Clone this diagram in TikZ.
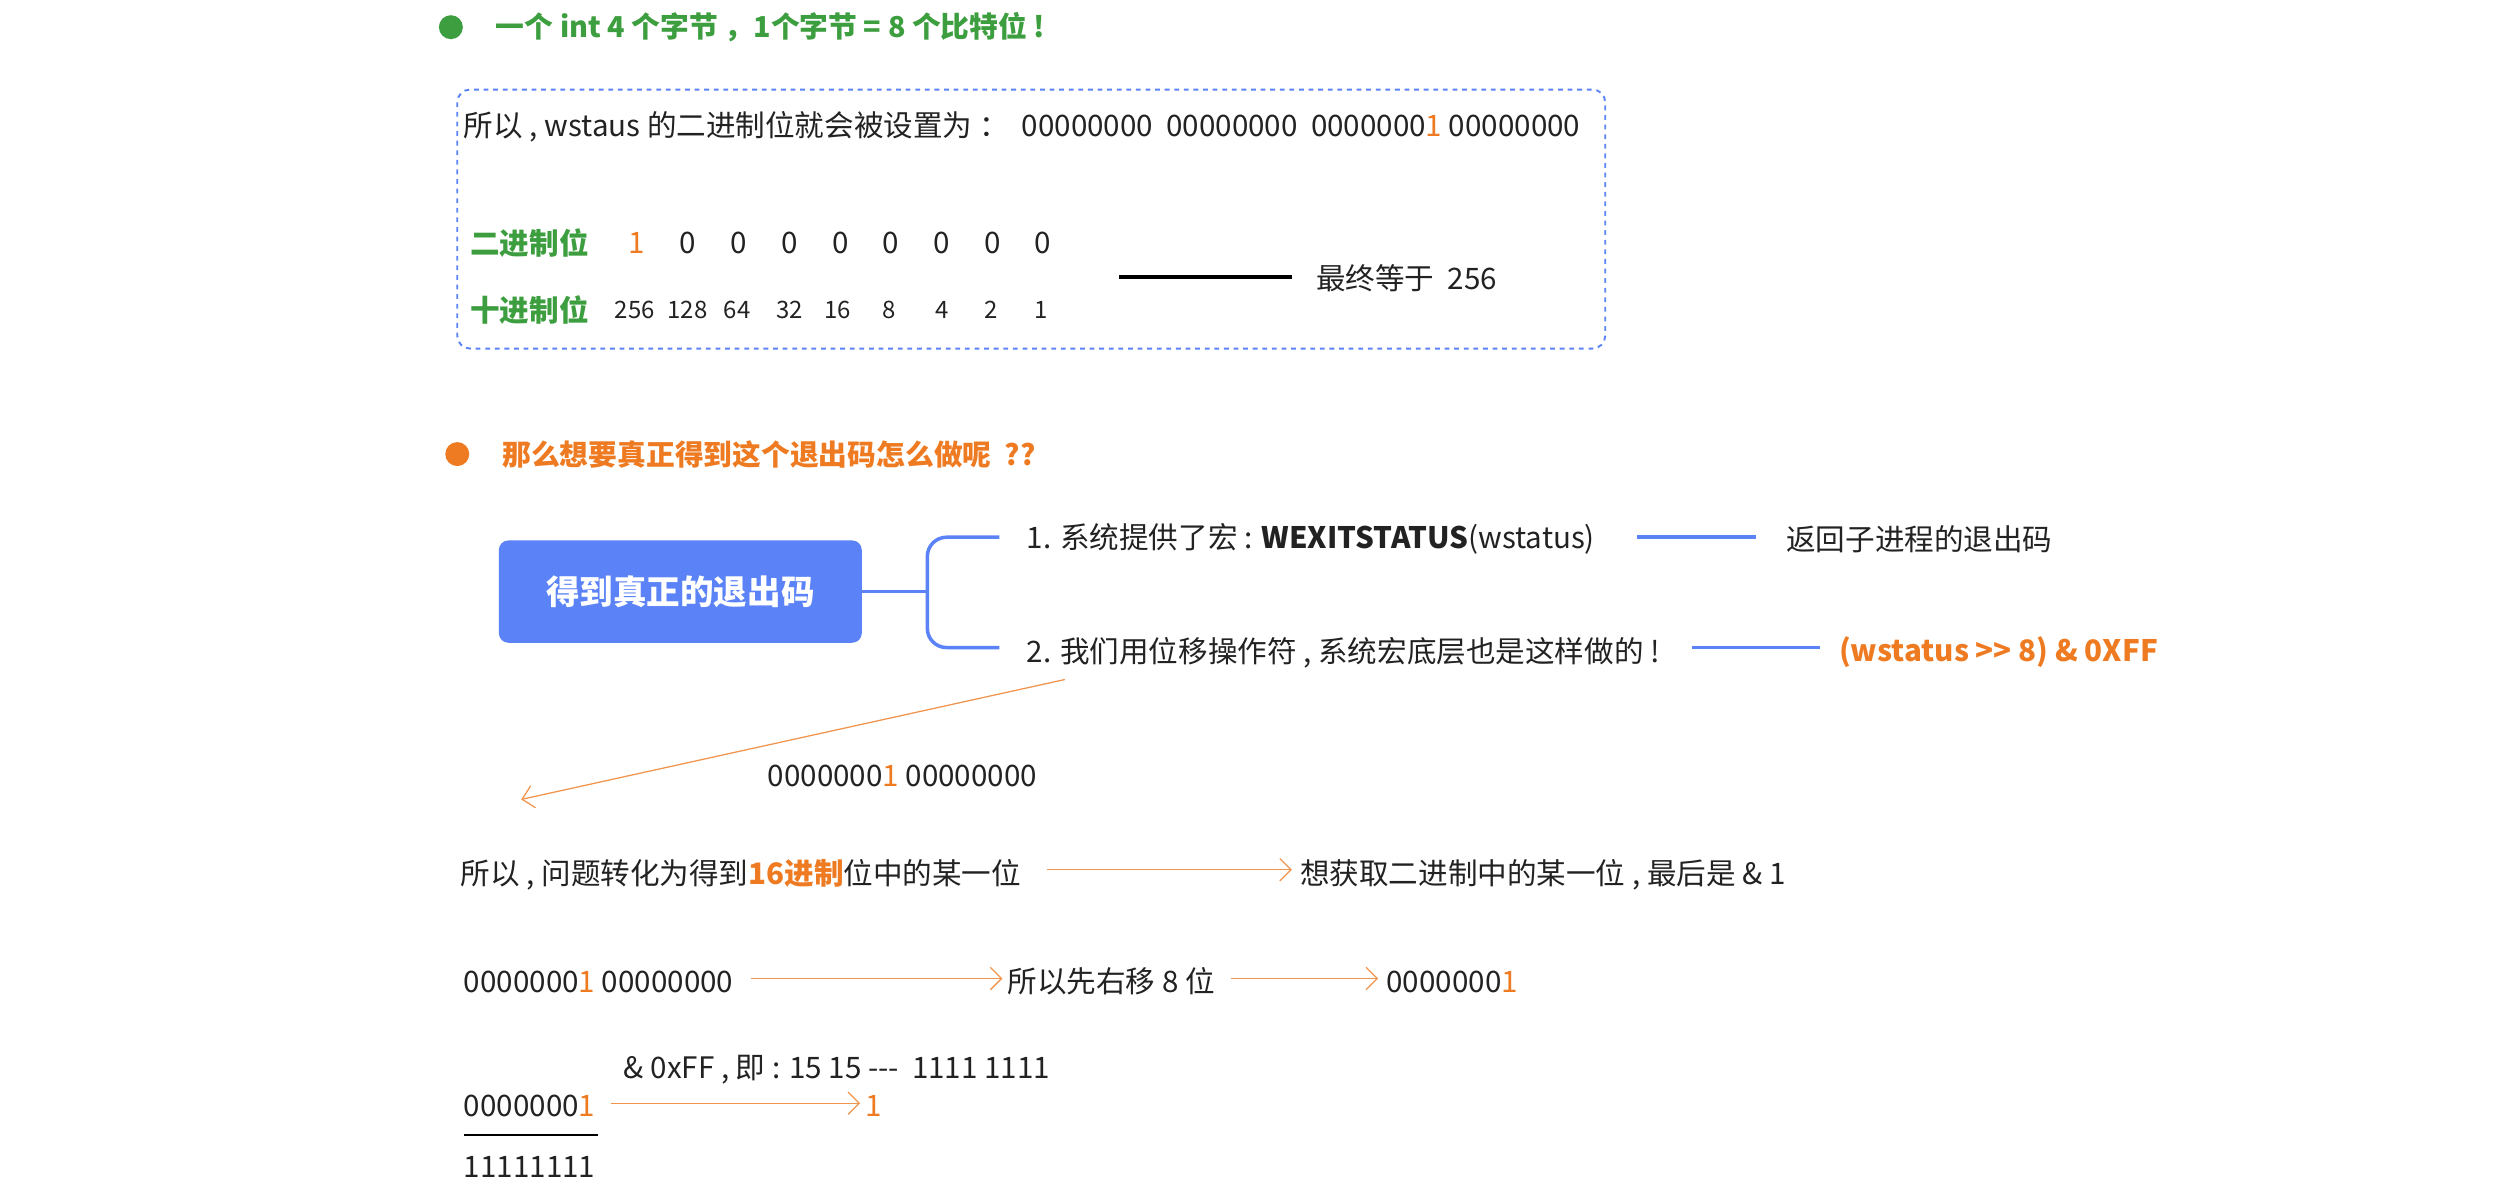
\documentclass[tikz,border=0pt]{standalone}
\usepackage{fontspec}
\setmainfont{Noto Sans CJK SC}
\usetikzlibrary{arrows.meta}
\definecolor{og}{HTML}{EE7B22}
\definecolor{gr}{HTML}{3C9E3F}
\definecolor{bl}{HTML}{5B83F7}
\definecolor{tx}{HTML}{222222}
\begin{document}
\begin{tikzpicture}[x=1pt,y=-1pt,
  t/.style={anchor=west,inner sep=0pt,text=tx,font=\fontsize{18.5}{22}\selectfont},
  sm/.style={inner sep=0pt,text=tx,font=\fontsize{15}{17}\selectfont},
  oarr/.style={draw=og!80,-{Straight Barb[length=7pt]},line width=0.8pt},
  bline/.style={draw=bl,line width=2.2pt}]
\useasboundingbox (0,0) rectangle (1568,745);
\fill[gr] (282,17) circle (7.5) coordinate (d1);
\node[t,text=gr,font=\fontsize{18}{20}\selectfont\bfseries] (h1) at (310,17) {一个 int 4 个字节 ，1个字节 = 8 个比特位 !};
\draw[bl,dashed,rounded corners=8pt,line width=1.2pt] (286,56) rectangle (1004,218);
\node[t] (l1) at (290,79) {所以 , wstaus 的二进制位就会被设置为 ：\ \ 00000000\ \ 00000000\ \ 0000000\textcolor{og}{1} 00000000};
\node[t,text=gr,font=\fontsize{18.5}{22}\selectfont\bfseries] (bw) at (294,152) {二进制位};
\node[t,text=gr,font=\fontsize{18.5}{22}\selectfont\bfseries] (dw) at (294,194) {十进制位};
\node[t,text=og,anchor=center] (b1) at (398,152) {1};
\foreach \x [count=\i] in {430,462,494,526,557,589,621,652}{\node[t,anchor=center] (b\i z) at (\x,152) {0};}
\foreach \x/\v [count=\i] in {397/256,430/128,461/64,494/32,524/16,556/8,589/4,620/2,651/1}{\node[sm] (dv\i) at (\x,194) {\v};}
\coordinate (k1) at (700,173); \coordinate (k2) at (808,173);
\draw[line width=2.4pt,black] (k1)--(k2);
\node[t] (eq) at (823,174) {最终等于\ \ 256};
\fill[og] (286,284) circle (7.5) coordinate (d2);
\node[t,text=og,font=\fontsize{18}{20}\selectfont\bfseries] (h2) at (314,284) {那么想要真正得到这个退出码怎么做呢\ \ ??};
\node[fill=bl,rounded corners=6pt,minimum width=227pt,minimum height=64pt,text=white,font=\fontsize{21}{24}\selectfont\bfseries] (box) at (425.5,370) {得到真正的退出码};
\coordinate (j) at (580,370);
\draw[bline] (box.east)--(j);
\coordinate (u) at (625,336); \coordinate (w) at (625,405);
\draw[bline,rounded corners=12pt] (u) -- (580,336) -- (580,405) -- (w);
\node[t] (s1) at (642,337) {1. 系统提供了宏 : \textbf{WEXITSTATUS}(wstatus)};
\coordinate (a1) at (1024,336); \coordinate (a2) at (1098,336);
\draw[bline] (a1)--(a2);
\node[t] (r1) at (1117,337) {返回子进程的退出码};
\node[t] (s2) at (642,408) {2. 我们用位移操作符 , 系统宏底层也是这样做的 !};
\coordinate (c1) at (1058,405); \coordinate (c2) at (1138,405);
\draw[bline] (c1)--(c2);
\node[t,text=og,font=\fontsize{18.5}{22}\selectfont\bfseries] (r2) at (1150,408) {(wstatus {>}{>} 8) \& 0XFF};
\coordinate (e1) at (666,425); \coordinate (e2) at (326,500);
\draw[oarr] (e1)--(e2);
\node[t] (n1) at (480,485) {0000000\textcolor{og}{1} 00000000};
\node[t] (p1) at (288,547) {所以 , 问题转化为得到\textcolor{og}{\bfseries 16进制}位中的某一位};
\coordinate (f1) at (655,544); \coordinate (f2) at (808,544);
\draw[oarr] (f1)--(f2);
\node[t] (p2) at (813,547) {想获取二进制中的某一位 , 最后是 \& 1};
\node[t] (q1) at (290,614) {0000000\textcolor{og}{1} 00000000};
\coordinate (g1) at (470,612); \coordinate (g2) at (627,612);
\draw[oarr] (g1)--(g2);
\node[t] (q2) at (630,614) {所以先右移 8 位};
\coordinate (g3) at (770,612); \coordinate (g4) at (862,612);
\draw[oarr] (g3)--(g4);
\node[t] (q3) at (867,614) {0000000\textcolor{og}{1}};
\node[t] (m1) at (390,669) {\& 0xFF , 即 : 15 15 -{}-{}-\ \ 1111 1111};
\node[t] (m2) at (290,692) {0000000\textcolor{og}{1}};
\coordinate (h1a) at (382,690); \coordinate (h2a) at (538,690);
\draw[oarr] (h1a)--(h2a);
\node[t,text=og] (m3) at (541,692) {1};
\coordinate (ln1) at (290,710); \coordinate (ln2) at (374,710);
\draw[line width=1.2pt] (ln1)--(ln2);
\node[t] (m4) at (290,730) {11111111};
\end{tikzpicture}
\end{document}
